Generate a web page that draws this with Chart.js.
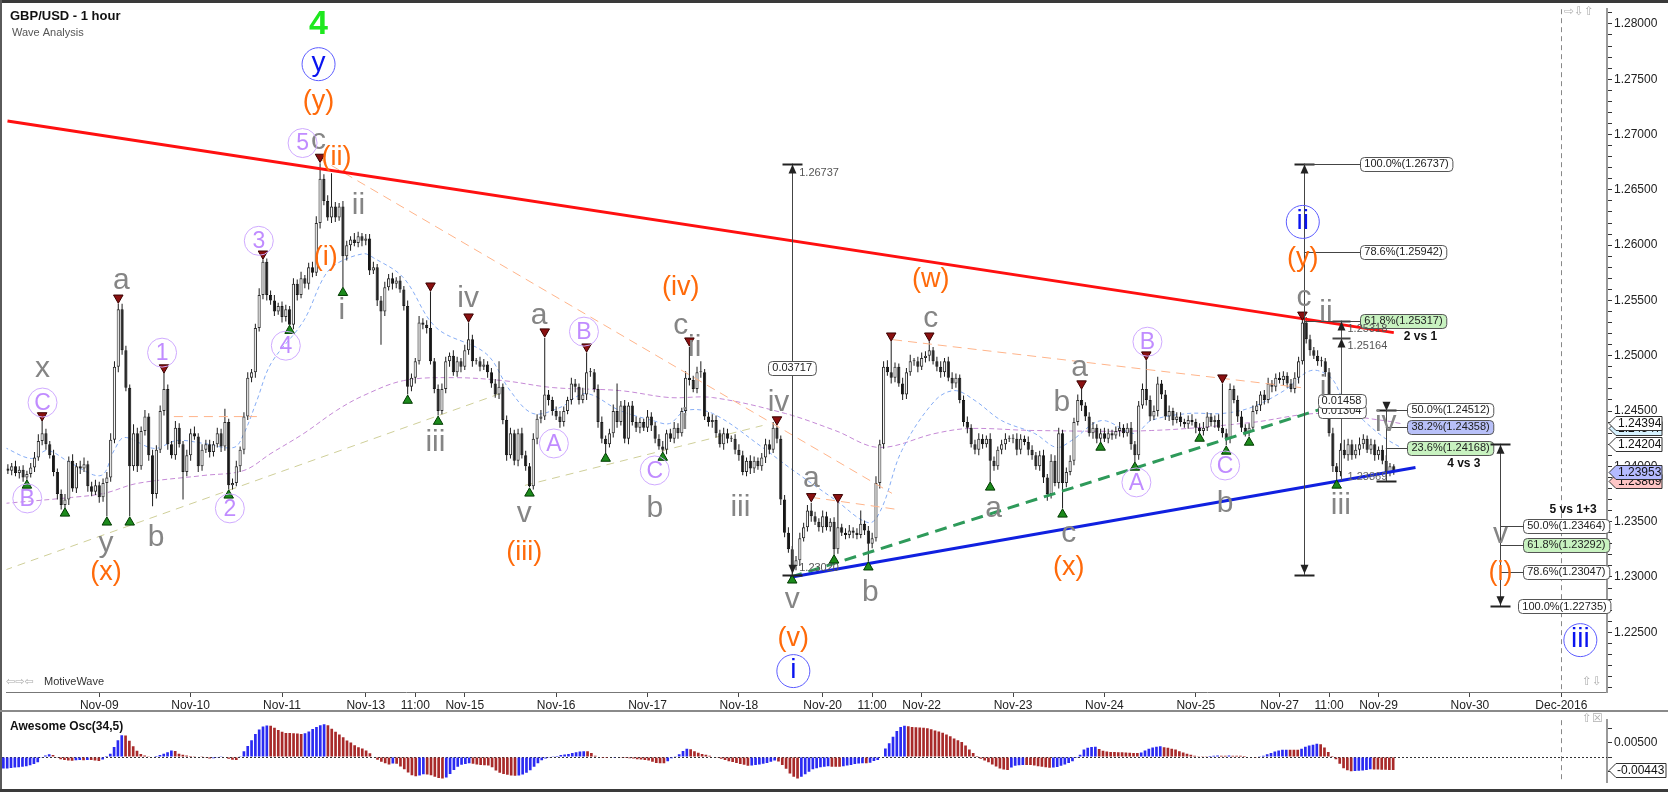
<!DOCTYPE html>
<html>
<head>
<meta charset="utf-8">
<title>GBP/USD - 1 hour</title>
<script src="https://cdn.jsdelivr.net/npm/chart.js@4.4.1/dist/chart.umd.min.js"></script>
<style>
  html, body { margin: 0; padding: 0; background: #fff; }
  #wrap { position: relative; width: 1668px; height: 792px; overflow: hidden; background: #fff; }
  #main { position: absolute; left: 0; top: 0; }
  #osc { position: absolute; left: 0; top: 711px; }
  .frame { position: absolute; pointer-events: none; }
</style>
</head>
<body>
<div id="wrap">
  <canvas id="main" width="1668" height="711"></canvas>
  <canvas id="osc" width="1668" height="81"></canvas>
  <div class="frame" style="left:0;top:0;width:1668px;height:3px;background:#3a3a3a"></div>
  <div class="frame" style="left:0;top:0;width:2px;height:792px;background:#5a5a5a"></div>
  <div class="frame" style="left:0;top:710px;width:1668px;height:2px;background:#8a8a8a"></div>
  <div class="frame" style="left:0;top:789px;width:1668px;height:3px;background:#3a3a3a"></div>
</div>
<script>
'use strict';

// x axis is the hourly bar index (0 = Nov-08 00:00, weekend hours skipped)
const tickBars = [24, 48, 72, 94, 107, 120, 144, 168, 192, 214, 227, 240, 264, 288, 312, 334, 347, 360, 384, 408];
const tickLabels = ['Nov-09', 'Nov-10', 'Nov-11', 'Nov-13', '11:00', 'Nov-15', 'Nov-16', 'Nov-17', 'Nov-18', 'Nov-20',
  '11:00', 'Nov-22', 'Nov-23', 'Nov-24', 'Nov-25', 'Nov-27', '11:00', 'Nov-29', 'Nov-30', 'Dec-2016'];
const priceTickLabels = ['1.22500', '1.23000', '1.23500', '1.24000', '1.24500', '1.25000', '1.25500',
  '1.26000', '1.26500', '1.27000', '1.27500', '1.28000'];

// hourly closes, price = 1 + v / 100000 (open = previous close)
const firstOpen = 23980;
const closes = [
  23960, 24000, 23940, 23970, 23900, 23930, 23990, 24080, 24230, 24300,
  24200, 24100, 23950, 23750, 23650, 23700, 24050, 23800, 24000, 23980,
  24020, 23820, 23770, 23830, 23720, 23850, 23900, 24240, 24900, 25420,
  25050, 24710, 24000, 24300, 24000, 24320, 24450, 24100, 23750, 24150,
  24500, 24700, 24200, 24100, 24350, 24200, 23950, 24100, 24300, 24270,
  24000, 24150, 24200, 24130, 24200, 24300, 24180, 24400, 23830, 23850,
  24000, 24150, 24450, 24800, 24850, 25250, 25550, 25850, 25550, 25500,
  25400, 25450, 25350, 25420, 25280, 25650, 25550, 25700, 25650, 25800,
  25750, 26200, 26600, 26400, 26250, 26350, 26250, 26350, 25900, 26000,
  26050, 26020, 26080, 26040, 26060, 25770, 25800, 25500, 25400, 25620,
  25700, 25650, 25680, 25600, 25450, 24720, 24800, 24950, 25300, 25280,
  25250, 24950, 24700, 24500, 24700, 24950, 25000, 24850, 24950, 24900,
  25050, 25150, 24950, 24950, 24900, 24920, 24850, 24750, 24650, 24720,
  24420, 24100, 24300, 24050, 24300, 24100, 24000, 23820, 24250, 24430,
  24450, 24650, 24600, 24500, 24450, 24400, 24500, 24600, 24750, 24720,
  24600, 24650, 24850, 24850, 24700, 24400, 24250, 24200, 24300, 24500,
  24400, 24550, 24250, 24550, 24400, 24350, 24400, 24350, 24450, 24370,
  24250, 24180, 24150, 24300, 24250, 24350, 24300, 24500, 24800, 24780,
  24700, 24850, 24850, 24450, 24400, 24420, 24300, 24200, 24300, 24250,
  24250, 24150, 24100, 23950, 24050, 23980, 24050, 24000, 24080, 24200,
  24150, 24350, 24250, 23700, 23400, 23250, 23100, 23150, 23350, 23450,
  23600, 23550, 23500, 23450, 23550, 23450, 23500, 23250, 23450, 23400,
  23380, 23420, 23400, 23380, 23480, 23420, 23300, 23350, 23850, 24200,
  24900, 24850, 24800, 24900, 24750, 24650, 24850, 24950, 24950, 24900,
  24980, 25000, 25050, 24950, 24900, 24850, 24950, 24800, 24750, 24800,
  24600, 24400, 24350, 24200, 24150, 24250, 24200, 24250, 24050, 24000,
  24150, 24200, 24250, 24250, 24250, 24150, 24250, 24220, 24150, 24100,
  24000, 24100, 23900, 23750, 24050, 23850, 24300, 23850, 23950, 24050,
  24400, 24600, 24550, 24450, 24300, 24350, 24250, 24300, 24250, 24300,
  24280, 24320, 24350, 24300, 24350, 24200, 24100, 24550, 24700, 24600,
  24450, 24500, 24750, 24650, 24450, 24500, 24420, 24450, 24400, 24380,
  24420, 24400, 24350, 24320, 24350, 24450, 24400, 24420, 24350, 24300,
  24250, 24700, 24600, 24450, 24350, 24300, 24350, 24500, 24550, 24650,
  24600, 24750, 24720, 24800, 24780, 24820, 24750, 24700, 24800, 24950,
  25300, 25150, 25050, 25000, 24950, 24950, 24850, 24300, 24000, 23950,
  24150, 24100, 24200, 24100, 24150, 24200, 24250, 24150, 24200, 24100,
  24150, 24050, 23950, 24000, 23953
];
// wick lengths beyond the body, in pips
const upperWicks = [
  4, 3, 5, 3, 4, 3, 4, 5, 6, 12,  4, 3, 5, 3, 4, 5, 4, 6, 3, 5,
  6, 3, 4, 5, 3, 4, 5, 6, 5, 5,  5, 4, 3, 8, 5, 4, 6, 3, 5, 4,
  5, 15, 4, 3, 6, 4, 3, 5, 4, 6,  3, 5, 4, 4, 3, 5, 4, 12, 3, 4,
  5, 3, 4, 5, 3, 4, 6, 2, 3, 4,  5, 3, 4, 4, 3, 5, 4, 6, 3, 4,
  5, 6, 14, 4, 5, 30, 4, 3, 5, 4,  3, 6, 4, 3, 4, 4, 5, 3, 4, 5,
  4, 5, 3, 4, 3, 5, 4, 3, 6, 4,  4, 33, 3, 4, 5, 4, 3, 5, 4, 3,
  5, 15, 4, 3, 4, 5, 3, 4, 4, 23,  3, 4, 5, 3, 4, 5, 4, 3, 5, 4,
  6, 51, 4, 3, 4, 5, 4, 3, 5, 4,  3, 6, 18, 4, 3, 4, 5, 3, 4, 6,
  25, 4, 5, 3, 4, 5, 4, 3, 6, 4,  3, 4, 5, 3, 4, 5, 4, 3, 6, 28,
  4, 5, 10, 3, 4, 5, 4, 3, 5, 4,  3, 4, 5, 4, 3, 5, 4, 3, 4, 5,
  4, 5, 2, 3, 4, 5, 3, 4, 5, 4,  5, 7, 4, 3, 5, 4, 3, 4, 22, 3,
  4, 5, 3, 4, 12, 3, 4, 5, 6, 4,  5, 6, 28, 4, 3, 5, 4, 6, 3, 4,
  5, 4, 8, 3, 4, 5, 3, 4, 5, 4,  3, 4, 5, 3, 4, 5, 4, 3, 5, 4,
  3, 4, 5, 3, 4, 5, 4, 3, 5, 4,  3, 4, 5, 3, 6, 5, 5, 3, 4, 5,
  4, 5, 10, 3, 4, 5, 3, 4, 5, 4,  3, 4, 5, 3, 4, 5, 3, 4, 5, 26,
  4, 5, 6, 3, 4, 5, 3, 4, 4, 3,  4, 5, 3, 4, 5, 4, 3, 4, 5, 40,
  4, 5, 3, 4, 5, 3, 4, 5, 4, 3,  4, 5, 3, 4, 5, 4, 3, 4, 5, 4,
  2, 5, 4, 3, 5, 4, 3, 4, 5, 3,  6, 9, 5, 4, 5, 6, 4, 3, 5, 4,
  3, 4, 5, 3, 2
];
const lowerWicks = [
  3, 4, 3, 5, 4, 2, 3, 4, 3, 4,  5, 3, 4, 5, 4, 3, 5, 3, 4, 5,
  3, 5, 4, 3, 5, 4, 30, 4, 3, 5,  4, 3, 45, 4, 5, 3, 4, 5, 11, 4,
  3, 4, 5, 3, 4, 3, 25, 4, 5, 3,  5, 4, 3, 5, 4, 3, 5, 4, 4, 4,
  3, 5, 4, 3, 4, 5, 3, 4, 5, 4,  4, 3, 5, 4, 0, 4, 5, 3, 4, 5,
  4, 3, 5, 4, 3, 5, 4, 3, 28, 4,  5, 3, 4, 5, 4, 4, 3, 5, 30, 4,
  3, 5, 4, 3, 4, 7, 4, 5, 3, 4,  5, 3, 4, 4, 3, 4, 5, 3, 4, 5,
  3, 4, 5, 3, 4, 3, 5, 4, 3, 4,  4, 5, 3, 4, 5, 3, 4, 1, 3, 5,
  4, 3, 5, 4, 3, 5, 4, 3, 4, 5,  4, 3, 5, 4, 3, 5, 4, 8, 3, 4,
  5, 3, 4, 5, 3, 4, 5, 3, 4, 5,  4, 3, 2, 4, 3, 4, 5, 3, 4, 5,
  3, 4, 5, 3, 4, 5, 4, 3, 5, 4,  3, 4, 5, 3, 4, 5, 4, 3, 4, 5,
  4, 3, 4, 5, 4, 3, 8, 4, 5, 3,  4, 5, 3, 4, 5, 3, 4, 5, 4, 3,
  4, 3, 5, 4, 3, 4, 16, 4, 3, 5,  4, 3, 5, 4, 3, 5, 4, 3, 4, 5,
  3, 4, 5, 3, 4, 5, 4, 3, 5, 4,  3, 4, 5, 3, 4, 5, 4, 3, 19, 4,
  3, 4, 5, 3, 4, 5, 4, 3, 5, 4,  3, 4, 5, 6, 4, 3, 5, 23, 4, 3,
  4, 3, 5, 4, 3, 5, 4, 3, 3, 4,  4, 3, 5, 4, 3, 5, 6, 4, 3, 5,
  4, 3, 5, 4, 3, 4, 5, 3, 4, 3,  4, 3, 5, 2, 4, 3, 4, 5, 3, 4,
  6, 4, 3, 5, 4, 3, 3, 4, 3, 5,  4, 3, 5, 4, 3, 5, 4, 3, 4, 5,
  3, 4, 5, 3, 4, 5, 4, 3, 5, 8,  4, 3, 5, 4, 3, 5, 4, 3, 4, 5,
  4, 3, 5, 4, 3
];

// Awesome Oscillator (34,5) per bar, value = v / 100000
const aoValues = [
  -396, -390, -377, -360, -349, -330, -311, -280, -240, -180,
  -20, 60, 100, 70, -20, -70, -100, -120, -125, -110,
  -100, -110, -95, -100, -120, -130, -80, 40, 120, 350,
  580, 750, 740, 560, 370, 220, 110, 60, 30, 20,
  40, 70, 120, 170, 230, 210, 120, 80, 60, 40,
  30, 20, 10, -20, -50, -40, -20, 10, -10, -60,
  -90, -100, 30, 200, 380, 580, 800, 950, 1050, 1090,
  1080, 1010, 930, 870, 830, 830, 820, 810, 800, 820,
  880, 970, 1040, 1100, 1130, 1100, 980, 870, 780, 680,
  570, 500, 410, 340, 300, 230, 130, 20, -90, -160,
  -210, -250, -220, -230, -320, -420, -530, -620, -660, -630,
  -590, -600, -620, -680, -720, -740, -700, -580, -440, -330,
  -260, -240, -210, -230, -250, -270, -280, -290, -350, -460,
  -540, -580, -610, -630, -640, -630, -600, -540, -450, -330,
  -210, -110, -50, -20, 10, 40, 70, 90, 110, 140,
  170, 190, 200, 200, 140, 50, -10, -30, -30, -10,
  -5, -10, -20, -30, -40, -50, -70, -80, -100, -120,
  -160, -200, -210, -210, -140, -40, 30, 100, 210, 290,
  270, 200, 150, 110, 80, 50, 20, -20, -60, -100,
  -140, -170, -200, -240, -260, -300, -290, -270, -250, -230,
  -200, -160, -120, -150, -270, -400, -560, -680, -740, -680,
  -590, -500, -420, -380, -350, -330, -310, -330, -330, -330,
  -310, -290, -270, -240, -220, -210, -210, -190, -130, -100,
  -10, 300, 480, 700, 900, 1040, 1080, 1060, 1040, 1030,
  1020, 1010, 990, 960, 920, 880, 840, 780, 720, 640,
  580, 520, 400, 260, 140, 40, -60, -120, -180, -250,
  -320, -390, -430, -440, -360, -300, -280, -275, -275, -275,
  -290, -310, -330, -350, -370, -360, -340, -300, -250, -200,
  -140, -30, 80, 260, 320, 350, 360, 280, 220, 190,
  180, 180, 170, 170, 160, 150, 140, 140, 160, 230,
  290, 330, 360, 370, 340, 320, 290, 260, 200, 160,
  120, 80, 50, 30, 30, 30, 40, 50, 60, 50,
  50, 60, 50, 50, 50, 40, 20, -10, -20, 10,
  50, 100, 140, 190, 230, 250, 255, 255, 255, 250,
  290, 360, 400, 430, 460, 440, 330, 180, 40, -70,
  -230, -380, -450, -490, -480, -470, -460, -440, -420, -425,
  -430, -435, -438, -440, -443
];

// dashed moving averages (bar, price)
const blueMaBars = [-0.9, 6.2, 10.4, 16.7, 24.5, 27.9, 30.6, 38.4, 44.4, 51.5, 59.4, 62, 65.4, 69.1, 77.7,
  82.9, 86.3, 93.4, 96, 103.9, 112.5, 125.6, 131.9, 137.9, 145, 151.8, 160.7, 169.4, 173.8, 178,
  185.1, 198.2, 205.2, 217.3, 226.2, 229.6, 234.8, 243.5, 248.7, 254, 261, 269.7, 275.4, 279.4, 287.2,
  295.9, 300.3, 310, 318.9, 326.5, 335.2, 342.2, 347.5, 350.9, 356.1, 361.4, 365.8];
const blueMaPrices = [1.24171, 1.24071, 1.24144, 1.24026, 1.23918, 1.24144, 1.24261, 1.24162, 1.24234, 1.24207,
  1.24171, 1.24297, 1.24595, 1.24929, 1.25317, 1.25705, 1.25831, 1.25922, 1.25886, 1.25705,
  1.25254, 1.25019, 1.24685, 1.24478, 1.24532, 1.24658, 1.24505, 1.24414, 1.24387, 1.24505,
  1.24478, 1.24171, 1.23990, 1.23697, 1.23490, 1.23629, 1.24144, 1.24595, 1.24685, 1.24595,
  1.24414, 1.24297, 1.24171, 1.24234, 1.24414, 1.24297, 1.24414, 1.24478, 1.24478, 1.24532,
  1.24685, 1.24866, 1.24802, 1.24595, 1.24414, 1.24261, 1.24171];
const purpleMaBars = [-0.9, 16.7, 25.3, 34, 51.5, 62, 69.1, 77.7, 86.3, 93.4, 103.9, 117, 130.1, 143.2,
  160.7, 173.8, 185.1, 204.2, 217.3, 228.8, 243.5, 252.4, 269.7, 300.3, 326.5, 344.1, 361.4, 365.8];
const purpleMaPrices = [1.23665, 1.23719, 1.23756, 1.23846, 1.23918, 1.23963, 1.24117, 1.24297, 1.24505, 1.24640,
  1.24775, 1.24802, 1.24775, 1.24712, 1.24685, 1.24622, 1.24622, 1.24478, 1.24324, 1.24171,
  1.24297, 1.24342, 1.24324, 1.24324, 1.24396, 1.24478, 1.24414, 1.24387];

// swing markers (bar, price)
const peakBars = [9, 29, 41, 67, 82, 111, 121, 141, 152, 179, 202, 211, 218, 232, 242, 282, 299, 319, 340];
const peakPrices = [1.24460, 1.25524, 1.24893, 1.25922, 1.26797, 1.25633, 1.25353, 1.25218, 1.25082, 1.25136,
  1.24423, 1.23729, 1.23720, 1.25181, 1.25181, 1.24748, 1.25010, 1.24802, 1.25370];
const troughBars = [5, 15, 26, 32, 58, 74, 88, 105, 113, 137, 157, 172, 206, 217, 226, 258, 277, 287, 296, 313, 320, 326, 349];
const troughPrices = [1.23828, 1.23575, 1.23494, 1.23494, 1.23738, 1.25227, 1.25570, 1.24595, 1.24405, 1.23756,
  1.24071, 1.24080, 1.22970, 1.23151, 1.23088, 1.23810, 1.23566, 1.24171, 1.23990, 1.24252,
  1.24135, 1.24216, 1.23828];

// drawn trend lines: [bar1, price1, bar2, price2]
const redTrend = [-0.1, 1.27122, 364, 1.25209];
const blueTrend = [205.5, 1.22997, 369.7, 1.23990];
const greenTrend = [205.5, 1.22997, 346.2, 1.24532];
const oliveTrends = [[-0.9, 1.23061, 129.3, 1.24658], [135.8, 1.23828, 198.2, 1.24369]];
const orangeTrends = [[81.6, 1.26788, 232.2, 1.23756], [211.0, 1.23720, 233.5, 1.23611],
  [232.5, 1.25145, 339.6, 1.24712], [43.6, 1.24450, 65.4, 1.24450]];

// wave labels: [bar, price, text]
const grayWaves = [
  [9.1, 1.24884, 'x'], [29.8, 1.25678, 'a'], [25.8, 1.23304, 'y'], [38.9, 1.23358, 'b'], [81.6, 1.26941, 'c'],
  [92.1, 1.26355, 'ii'], [87.7, 1.25407, 'i'], [112.3, 1.24216, 'iii'], [120.9, 1.25515, 'iv'], [139.5, 1.25362, 'a'],
  [135.6, 1.23575, 'v'], [176.7, 1.25272, 'c'], [180.4, 1.25073, 'ii'], [177.8, 1.24414, 'i'], [169.9, 1.23620, 'b'],
  [202.4, 1.24577, 'iv'], [192.4, 1.23629, 'iii'], [211.0, 1.23891, 'a'], [206.0, 1.22790, 'v'], [226.5, 1.22853, 'b'],
  [242.4, 1.25335, 'c'], [258.9, 1.23620, 'a'], [276.8, 1.24577, 'b'], [278.6, 1.23395, 'c'], [281.5, 1.24893, 'a'],
  [319.7, 1.23665, 'b'], [340.4, 1.25524, 'c'], [346.2, 1.25389, 'ii'], [345.4, 1.24712, 'i'], [350.1, 1.23647, 'iii'],
  [361.9, 1.24396, 'iv'], [392.0, 1.23386, 'v']
];
const orangeWaves = [
  [25.8, 1.23038, '(x)'], [81.6, 1.27302, '(y)'], [86.3, 1.26788, '(ii)'], [83.5, 1.25885, '(i)'],
  [135.6, 1.23223, '(iii)'], [176.7, 1.25615, '(iv)'], [206.3, 1.22447, '(v)'], [242.4, 1.25687, '(w)'],
  [278.6, 1.23088, '(x)'], [340.1, 1.25876, '(y)'], [392.0, 1.23043, '(i)']
];
const purpleWaves = [
  [9.1, 1.24577, 'C'], [5.1, 1.23710, 'B'], [40.5, 1.25028, '1'], [58.3, 1.23620, '2'], [65.9, 1.26039, '3'],
  [73.0, 1.25091, '4'], [77.4, 1.26923, '5'], [143.4, 1.24207, 'A'], [151.3, 1.25218, 'B'], [169.9, 1.23963, 'C'],
  [299.3, 1.25127, 'B'], [296.4, 1.23855, 'A'], [319.7, 1.24008, 'C']
];
const blueWaves = [[81.6, 1.27636, 'y'], [206.3, 1.22149, 'i'], [340.1, 1.26210, 'ii'], [413.0, 1.22429, 'iii']];
const greenWave = [81.6, 1.27997, '4'];

// fibonacci rulers
const fib2vs1 = [['100.0%', 1.26737, '#ffffff'], ['78.6%', 1.25942, '#ffffff'], ['61.8%', 1.25317, '#c8f2c0']];
const fib4vs3 = [['50.0%', 1.24512, '#ffffff'], ['38.2%', 1.24358, '#b8c0f8'], ['23.6%', 1.24168, '#c8f2c0']];
const fib5vs13 = [['50.0%', 1.23464, '#ffffff'], ['61.8%', 1.23292, '#c8f2c0'], ['78.6%', 1.23047, '#ffffff'], ['100.0%', 1.22735, '#ffffff']];
const priceTags = [[1.24347, '#d6f2ff'], [1.24394, '#ffffff'], [1.24204, '#ffffff'], [1.23869, '#ffc6c6'], [1.23953, '#b4baff']];

const FONT = "'Liberation Sans', Arial, sans-serif";
Chart.defaults.font.family = FONT;
const xMin = -0.36, xMax = 420;

const priceOf = v => 1 + v / 100000;
const opens = closes.map((c, i) => i === 0 ? firstOpen : closes[i - 1]);
const wickData = closes.map((c, i) => ({
  x: i,
  y: [priceOf(Math.min(opens[i], c)) - lowerWicks[i] / 10000, priceOf(Math.max(opens[i], c)) + upperWicks[i] / 10000]
}));
const bodyData = closes.map((c, i) => ({ x: i, y: [priceOf(opens[i]), priceOf(c)] }));
const isUp = closes.map((c, i) => c >= opens[i]);

const pts = (bars, prices) => bars.map((b, i) => ({ x: b, y: prices[i] }));
const seg = s => [{ x: s[0], y: s[1] }, { x: s[2], y: s[3] }];

function lineSet(data, color, width, dash, order) {
  return { type: 'line', data, borderColor: color, borderWidth: width, borderDash: dash || [],
    pointRadius: 0, tension: 0, fill: false, order };
}

const datasets = [
  { type: 'bar', data: wickData, backgroundColor: '#222222', grouped: false,
    categoryPercentage: 1, barPercentage: 0.27, order: 5 },
  { type: 'bar', data: bodyData, grouped: false, categoryPercentage: 1, barPercentage: 0.84, minBarLength: 1,
    backgroundColor: isUp.map(u => u ? '#f4f4f4' : '#161616'),
    borderColor: isUp.map(u => u ? '#2e2e2e' : '#161616'), borderWidth: 1, borderSkipped: false, order: 4 },
  Object.assign(lineSet(pts(blueMaBars, blueMaPrices), '#86adf5', 1, [4, 3], 6), { tension: 0.35 }),
  Object.assign(lineSet(pts(purpleMaBars, purpleMaPrices), '#c58ad6', 1, [5, 3], 6), { tension: 0.35 }),
  ...oliveTrends.map(s => lineSet(seg(s), '#cfcf99', 1, [8, 6], 6)),
  ...orangeTrends.map(s => lineSet(seg(s), '#ffb48a', 1, [9, 6], 3)),
  lineSet(seg(greenTrend), '#2e9a5a', 3, [12, 7], 2),
  lineSet(seg(redTrend), '#ff1010', 3, [], 1),
  lineSet(seg(blueTrend), '#1020e0', 3, [], 1),
  { type: 'line', data: pts(peakBars, peakPrices), showLine: false, pointStyle: 'triangle', pointRotation: 180,
    pointRadius: 5.5, pointBackgroundColor: '#8a1010', pointBorderColor: '#3a0000', pointBorderWidth: 1, order: 0 },
  { type: 'line', data: pts(troughBars, troughPrices), showLine: false, pointStyle: 'triangle',
    pointRadius: 5.5, pointBackgroundColor: '#1c8a1c', pointBorderColor: '#003a00', pointBorderWidth: 1, order: 0 }
];

function text(ctx, str, x, y, font, color, align, base) {
  ctx.font = font;
  ctx.fillStyle = color;
  ctx.textAlign = align || 'center';
  ctx.textBaseline = base || 'middle';
  ctx.fillText(str, x, y);
}

function hline(ctx, x1, x2, y, color, w) {
  ctx.strokeStyle = color; ctx.lineWidth = w || 1;
  ctx.beginPath(); ctx.moveTo(x1, Math.round(y) + 0.5); ctx.lineTo(x2, Math.round(y) + 0.5); ctx.stroke();
}

function arrow(ctx, x, y, dir) {
  const h = dir === 'up' ? 9 : -9;
  ctx.fillStyle = '#222';
  ctx.beginPath(); ctx.moveTo(x, y); ctx.lineTo(x - 4, y + h); ctx.lineTo(x + 4, y + h); ctx.closePath(); ctx.fill();
}

function box(ctx, x, y, str, fill, align) {
  ctx.font = '11px ' + FONT;
  const w = ctx.measureText(str).width + 8, h = 14;
  const left = align === 'center' ? x - w / 2 : x;
  ctx.beginPath();
  ctx.roundRect(Math.round(left) + 0.5, Math.round(y - h / 2) + 0.5, w, h, 4);
  ctx.fillStyle = fill; ctx.fill();
  ctx.strokeStyle = '#555'; ctx.lineWidth = 1; ctx.stroke();
  text(ctx, str, left + 4, y + 0.5, '11px ' + FONT, '#222', 'left');
}

function ruler(ctx, X, Y, bar, pTop, pBot, topArrow, botArrow) {
  const x = Math.round(X(bar)) + 0.5, y1 = Y(pTop), y2 = Y(pBot);
  ctx.strokeStyle = '#444'; ctx.lineWidth = 1;
  ctx.beginPath(); ctx.moveTo(x, y1); ctx.lineTo(x, y2); ctx.stroke();
  hline(ctx, x - 10, x + 10, y1, '#222', 2);
  hline(ctx, x - 10, x + 10, y2, '#222', 2);
  if (topArrow) arrow(ctx, x, y1 + 1, topArrow);
  if (botArrow) arrow(ctx, x, y2 - 1, botArrow);
}

function fibLevels(ctx, X, Y, bar, labelBar, levels) {
  const x = X(bar), lx = X(labelBar);
  levels.forEach(l => {
    hline(ctx, x, lx, Y(l[1]), '#444', 1);
    box(ctx, lx, Y(l[1]), l[0] + '(' + l[1].toFixed(5) + ')', l[2]);
  });
}

const mainDecor = {
  id: 'mainDecor',
  afterDatasetsDraw(chart) {
    const ctx = chart.ctx;
    const X = v => chart.scales.x.getPixelForValue(v);
    const Y = v => chart.scales.y.getPixelForValue(v);
    const area = chart.chartArea;
    ctx.save();

    // dashed marker of the month boundary
    ctx.strokeStyle = '#888'; ctx.lineWidth = 1; ctx.setLineDash([5, 4]);
    ctx.beginPath(); ctx.moveTo(Math.round(X(408)) + 0.5, area.top); ctx.lineTo(Math.round(X(408)) + 0.5, area.bottom); ctx.stroke();
    ctx.setLineDash([]);

    // rulers
    ruler(ctx, X, Y, 206.0, 1.26737, 1.23020, 'up', 'down');
    text(ctx, '1.26737', X(206.0) + 7, Y(1.26737) + 9, '11px ' + FONT, '#555', 'left');
    text(ctx, '1.23020', X(206.0) + 7, Y(1.23020) - 7, '11px ' + FONT, '#555', 'left');
    box(ctx, X(206.0), Y(1.24893), '0.03717', '#ffffff', 'center');

    ruler(ctx, X, Y, 340.4, 1.26737, 1.23020, 'up', 'down');
    fibLevels(ctx, X, Y, 340.4, 355.2, fib2vs1);
    text(ctx, '2 vs 1', X(371.0), Y(1.25172), 'bold 12px ' + FONT, '#111');

    const rx = Math.round(X(350.1)) + 0.5;
    ctx.strokeStyle = '#555'; ctx.lineWidth = 1;
    ctx.beginPath(); ctx.moveTo(rx, Y(1.25318)); ctx.lineTo(rx, Y(1.23869)); ctx.stroke();
    hline(ctx, rx - 9, rx + 9, Y(1.25318), '#444', 2);
    hline(ctx, rx - 9, rx + 9, Y(1.25164), '#444', 2);
    arrow(ctx, rx, Y(1.25318) + 1, 'up');
    arrow(ctx, rx, Y(1.25164) + 1, 'up');
    text(ctx, '1.25318', rx + 6, Y(1.25318) + 8, '11px ' + FONT, '#555', 'left');
    text(ctx, '1.25164', rx + 6, Y(1.25164) + 8, '11px ' + FONT, '#555', 'left');
    box(ctx, rx, Y(1.24503), '0.01304', '#ffffff', 'center');
    box(ctx, rx, Y(1.24593), '0.01458', '#ffffff', 'center');
    text(ctx, '1.23869', rx + 6, Y(1.23900), '11px ' + FONT, '#666', 'left');

    ruler(ctx, X, Y, 361.9, 1.24512, 1.23869, 'down', null);
    fibLevels(ctx, X, Y, 361.9, 367.6, fib4vs3);
    text(ctx, '4 vs 3', X(382.4), Y(1.24024), 'bold 12px ' + FONT, '#111');

    ruler(ctx, X, Y, 392.0, 1.24204, 1.22735, 'up', 'down');
    fibLevels(ctx, X, Y, 392.0, 398.0, fib5vs13.slice(0, 3));
    box(ctx, X(396.7), Y(1.22735), '100.0%(1.22735)', '#ffffff');
    text(ctx, '5 vs 1+3', X(411.1), Y(1.23612), 'bold 12px ' + FONT, '#111');

    // wave labels
    grayWaves.forEach(w => text(ctx, w[2], X(w[0]), Y(w[1]), '30px ' + FONT, '#858585'));
    orangeWaves.forEach(w => text(ctx, w[2], X(w[0]), Y(w[1]), '27px ' + FONT, '#ff6a0a'));
    purpleWaves.forEach(w => {
      ctx.beginPath(); ctx.arc(X(w[0]), Y(w[1]), 14.5, 0, Math.PI * 2);
      ctx.strokeStyle = '#cfaaff'; ctx.lineWidth = 1; ctx.stroke();
      text(ctx, w[2], X(w[0]), Y(w[1]) + 1, '23px ' + FONT, '#c08cff');
    });
    blueWaves.forEach(w => {
      ctx.beginPath(); ctx.arc(X(w[0]), Y(w[1]), 16.5, 0, Math.PI * 2);
      ctx.strokeStyle = '#5c5cff'; ctx.lineWidth = 1; ctx.stroke();
      text(ctx, w[2], X(w[0]), Y(w[1]) - 1, '28px ' + FONT, '#0a14f0');
    });
    text(ctx, greenWave[2], X(greenWave[0]), Y(greenWave[1]), 'bold 34px ' + FONT, '#1ee81e');

    ctx.restore();
  },
  afterDraw(chart) {
    const ctx = chart.ctx;
    const Y = v => chart.scales.y.getPixelForValue(v);
    const right = chart.chartArea.right;
    ctx.save();
    text(ctx, 'GBP/USD - 1 hour', 10, 16, 'bold 13px ' + FONT, '#111', 'left');
    text(ctx, 'Wave Analysis', 12, 33, '11px ' + FONT, '#555', 'left');
    text(ctx, '\u21e6\u21e8\u21e6', 6, 682, '11px DejaVu Sans', '#aaa', 'left');
    text(ctx, 'MotiveWave', 44, 682, '11px ' + FONT, '#333', 'left');
    text(ctx, '\u21e8\u21e9\u21e7', 1564, 12, '12px DejaVu Sans', '#b0b0b0', 'left');
    text(ctx, '\u21e7\u21e9', 1582, 682, '12px DejaVu Sans', '#b0b0b0', 'left');
    priceTags.forEach(t => {
      const y = Math.round(Y(t[0])) + 0.5, x = right + 2;
      ctx.beginPath();
      ctx.moveTo(x, y); ctx.lineTo(x + 7, y - 7); ctx.lineTo(x + 53, y - 7);
      ctx.lineTo(x + 53, y + 7); ctx.lineTo(x + 7, y + 7); ctx.closePath();
      ctx.fillStyle = t[1]; ctx.fill();
      ctx.strokeStyle = '#333'; ctx.lineWidth = 1; ctx.stroke();
      text(ctx, t[0].toFixed(5), x + 9, y + 0.5, '12px ' + FONT, '#111', 'left');
    });
    ctx.restore();
  }
};

new Chart(document.getElementById('main'), {
  type: 'bar',
  data: { datasets },
  options: {
    responsive: false, animation: false, devicePixelRatio: 1,
    layout: { padding: { left: 2, top: 8, right: 0, bottom: 0 } },
    plugins: { legend: { display: false }, tooltip: { enabled: false } },
    scales: {
      x: {
        type: 'linear', min: xMin, max: xMax, offset: false,
        afterFit(s) { s.height = 19; },
        afterBuildTicks(ax) { ax.ticks = tickBars.map(v => ({ value: v })); },
        ticks: { autoSkip: false, maxRotation: 0, padding: 1, color: '#222', font: { size: 12 },
          callback: (v, i) => tickLabels[i] },
        grid: { drawOnChartArea: false, offset: false, tickLength: 5, color: '#444' },
        border: { color: '#777', width: 1 }
      },
      y: {
        position: 'right', min: 1.2196, max: 1.28133,
        afterFit(s) { s.width = 61; },
        afterBuildTicks(ax) {
          const t = [];
          for (let k = 1220; k <= 1281; k++) t.push({ value: k / 1000 });
          ax.ticks = t;
        },
        ticks: { autoSkip: false, padding: 2, color: '#222', font: { size: 12 },
          callback: v => priceTickLabels.includes(v.toFixed(5)) ? v.toFixed(5) : '' },
        grid: { drawOnChartArea: false, tickLength: 5, color: '#333' },
        border: { color: '#999', width: 2 }
      }
    }
  },
  plugins: [mainDecor]
});

const oscDecor = {
  id: 'oscDecor',
  beforeDatasetsDraw(chart) {
    const ctx = chart.ctx, a = chart.chartArea;
    const y0 = Math.round(chart.scales.y.getPixelForValue(0)) + 0.5;
    const xd = Math.round(chart.scales.x.getPixelForValue(408)) + 0.5;
    ctx.save();
    ctx.strokeStyle = '#333'; ctx.lineWidth = 1; ctx.setLineDash([2, 2]);
    ctx.beginPath(); ctx.moveTo(a.left, y0); ctx.lineTo(a.right, y0); ctx.stroke();
    ctx.strokeStyle = '#888'; ctx.setLineDash([5, 4]);
    ctx.beginPath(); ctx.moveTo(xd, a.top); ctx.lineTo(xd, a.bottom); ctx.stroke();
    ctx.restore();
  },
  afterDraw(chart) {
    const ctx = chart.ctx, a = chart.chartArea;
    ctx.save();
    text(ctx, 'Awesome Osc(34,5)', 10, 16, 'bold 12px ' + FONT, '#111', 'left');
    text(ctx, '\u21e7\u2612', 1582, 8, '12px DejaVu Sans', '#b0b0b0', 'left');
    const last = aoValues[aoValues.length - 1] / 100000;
    const y = Math.round(chart.scales.y.getPixelForValue(last)) + 0.5, x = a.right + 2;
    ctx.beginPath();
    ctx.moveTo(x, y); ctx.lineTo(x + 7, y - 7); ctx.lineTo(x + 57, y - 7);
    ctx.lineTo(x + 57, y + 7); ctx.lineTo(x + 7, y + 7); ctx.closePath();
    ctx.fillStyle = '#fff'; ctx.fill(); ctx.strokeStyle = '#333'; ctx.lineWidth = 1; ctx.stroke();
    text(ctx, last.toFixed(5), x + 8, y + 0.5, '12px ' + FONT, '#111', 'left');
    ctx.restore();
  }
};

new Chart(document.getElementById('osc'), {
  type: 'bar',
  data: {
    datasets: [{
      data: aoValues.map((v, i) => ({ x: i, y: v / 100000 })),
      backgroundColor: aoValues.map((v, i) => (i === 0 || v > aoValues[i - 1]) ? '#2a2af2' : '#a82a2a'),
      grouped: false, categoryPercentage: 1, barPercentage: 0.7
    }]
  },
  options: {
    responsive: false, animation: false, devicePixelRatio: 1,
    layout: { padding: { left: 2, top: 2, right: 0, bottom: 3 } },
    plugins: { legend: { display: false }, tooltip: { enabled: false } },
    scales: {
      x: { type: 'linear', min: xMin, max: xMax, offset: false, display: false },
      y: {
        position: 'right', min: -0.00884, max: 0.01271,
        afterFit(s) { s.width = 61; },
        afterBuildTicks(ax) { ax.ticks = [-0.005, 0, 0.005, 0.01].map(v => ({ value: v })); },
        ticks: { autoSkip: false, padding: 2, color: '#222', font: { size: 12 },
          callback: v => v === 0.005 ? '0.00500' : '' },
        grid: { drawOnChartArea: false, tickLength: 5, color: '#333' },
        border: { color: '#999', width: 2 }
      }
    }
  },
  plugins: [oscDecor]
});
</script>
</body>
</html>
